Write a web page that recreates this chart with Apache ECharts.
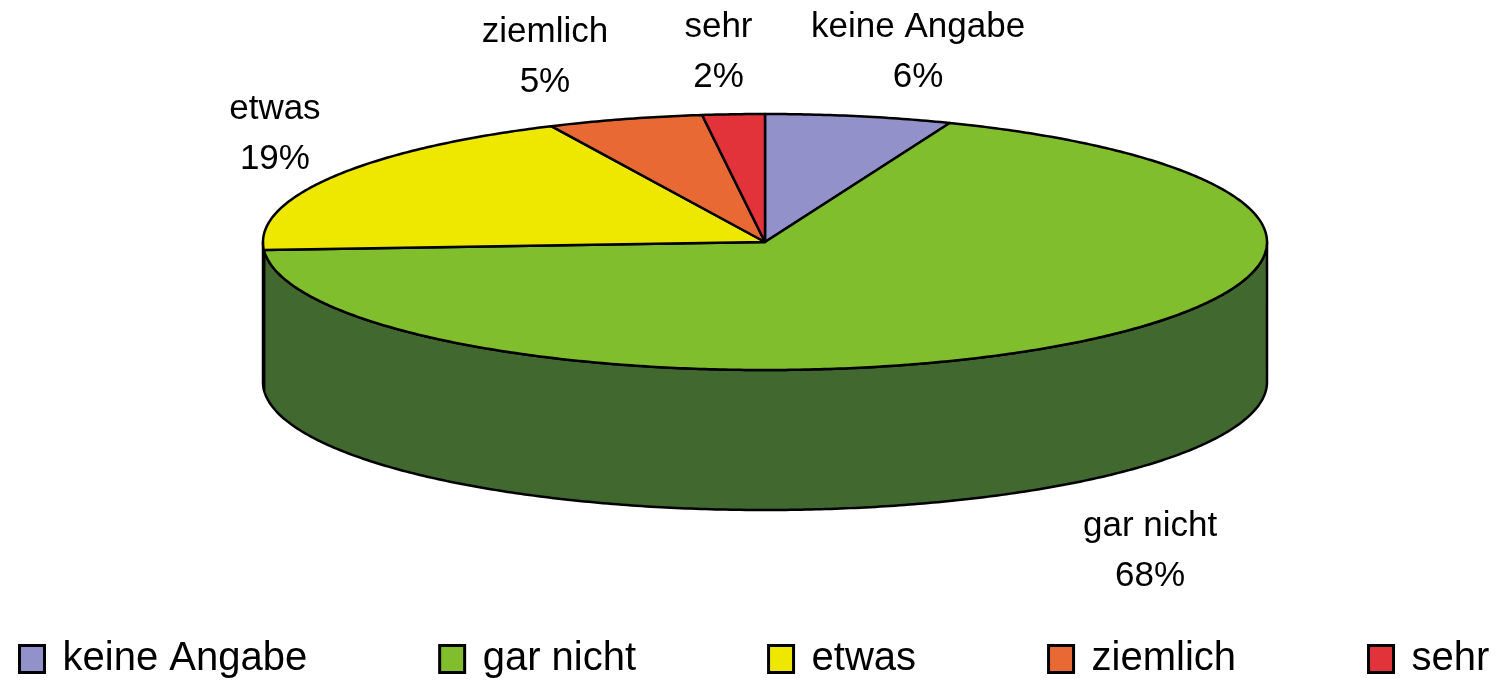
<!DOCTYPE html>
<html>
<head>
<meta charset="utf-8">
<script src="https://cdn.jsdelivr.net/npm/echarts@6/dist/echarts.min.js"></script>
<style>
  html, body { margin: 0; padding: 0; background: #fff; }
  #main { width: 1499px; height: 680px; }
</style>
</head>
<body>
<div id="main"></div>
<script>
  // data
  var categories = ['keine Angabe', 'gar nicht', 'etwas', 'ziemlich', 'sehr'];
  var values = [6, 68, 19, 5, 2];

  // colours (top face / side wall)
  var topColors = ['#9391c9', '#80be2e', '#eee800', '#e96935', '#e3333a'];
  var sideColors = ['#5b5a85', '#41692f', '#8c8800', '#8f3f1e', '#8a1d22'];

  // tilted pie geometry
  var CX = 765, CY = 242, RX = 502, RY = 128, DEPTH = 140;
  // label nudges from the slice edge point
  var labelShift = [[59, -64], [90, 66], [-58, -42], [-80, -62], [-15, -62]];

  var total = values.reduce(function (a, b) { return a + b; }, 0);
  var startAngles = [];
  var acc = 0;
  values.forEach(function (v) { startAngles.push(acc / total * Math.PI * 2); acc += v; });

  function pt(t, dy) {
    return [CX + RX * Math.sin(t), CY - RY * Math.cos(t) + (dy || 0)];
  }

  function arc(a, b, dy) {
    var pts = [];
    var n = Math.max(2, Math.ceil((b - a) / 0.01));
    for (var i = 0; i <= n; i++) pts.push(pt(a + (b - a) * i / n, dy));
    return pts;
  }

  function makeRender(idx) {
    return function (params, api) {
      var a = startAngles[idx];
      var b = a + api.value(0) / total * Math.PI * 2;
      var children = [];

      // side wall on the front half
      var s = Math.max(a, Math.PI / 2), e = Math.min(b, Math.PI * 1.5);
      if (e > s) {
        var side = arc(s, e).concat(arc(s, e, DEPTH).reverse());
        children.push({
          type: 'polygon',
          shape: { points: side },
          style: { fill: sideColors[idx], stroke: '#000', lineWidth: 2.5, lineJoin: 'round' }
        });
      }

      // top face
      var top = [[CX, CY]].concat(arc(a, b));
      children.push({
        type: 'polygon',
        shape: { points: top },
        style: { fill: topColors[idx], stroke: '#000', lineWidth: 2.5, lineJoin: 'round' }
      });

      // label
      var m = (a + b) / 2;
      var base = pt(m, Math.cos(m) < 0 ? DEPTH : 0);
      children.push({
        type: 'text',
        x: base[0] + labelShift[idx][0],
        y: base[1] + labelShift[idx][1],
        style: {
          text: categories[idx] + '\n' + Math.round(api.value(0) / total * 100) + '%',
          fill: '#000',
          fontSize: 35,
          fontFamily: 'Liberation Sans, Arial, sans-serif',
          lineHeight: 50,
          align: 'center',
          verticalAlign: 'middle',
          textAlign: 'center',
          textVerticalAlign: 'middle'
        }
      });

      return { type: 'group', children: children };
    };
  }

  var chart = echarts.init(document.getElementById('main'));

  var series = categories.map(function (name, i) {
    return {
      name: name,
      type: 'custom',
      coordinateSystem: 'none',
      itemStyle: { color: topColors[i] },
      renderItem: makeRender(i),
      data: [[values[i]]]
    };
  });

  var option = {
    animation: false,
    backgroundColor: '#fff',
    legend: {
      data: categories,
      left: 13,
      top: 634,
      icon: 'rect',
      itemWidth: 25,
      itemHeight: 27,
      itemGap: 131,
      selectedMode: false,
      itemStyle: { borderColor: '#000', borderWidth: 3 },
      textStyle: {
        color: '#000',
        fontSize: 40,
        fontFamily: 'Liberation Sans, Arial, sans-serif',
        padding: [0, 0, 0, 13]
      }
    },
    series: series
  };

  chart.setOption(option);
</script>
</body>
</html>
